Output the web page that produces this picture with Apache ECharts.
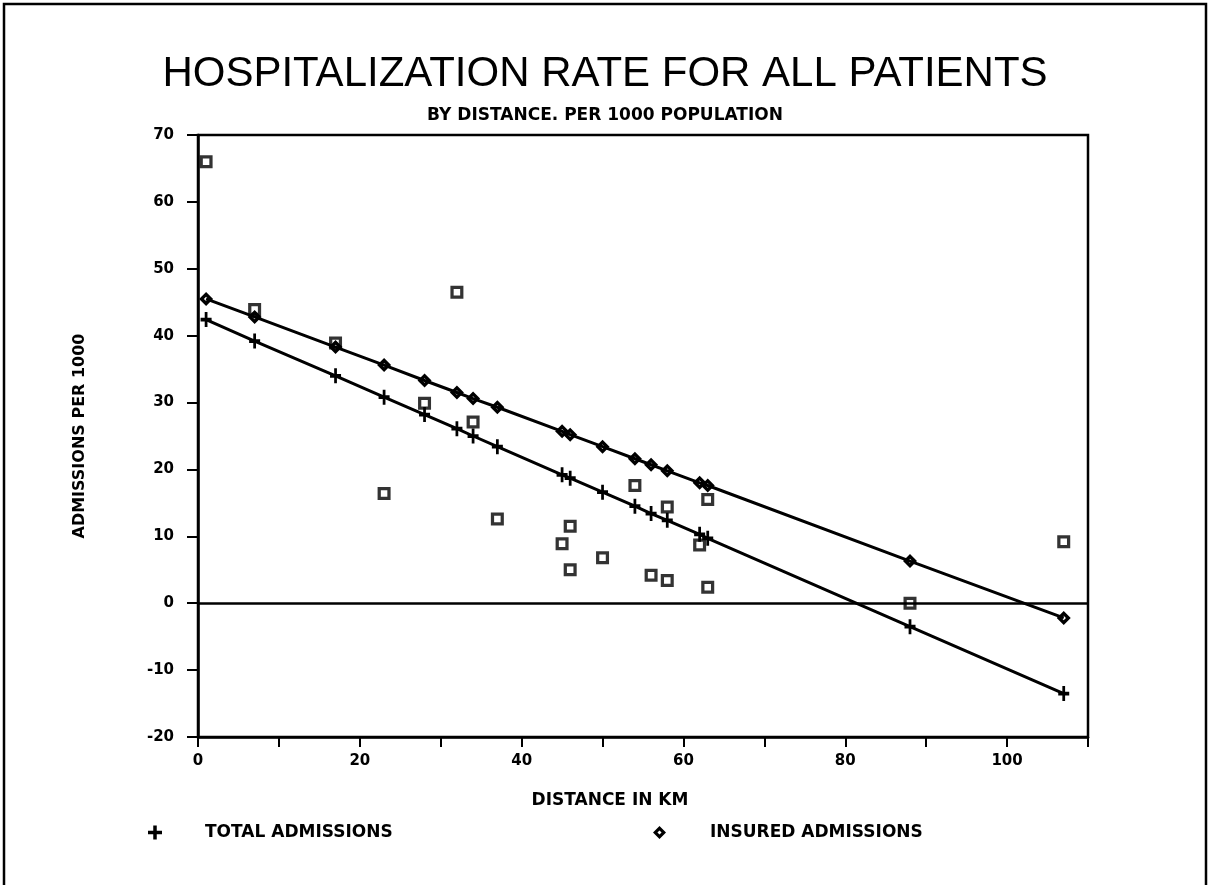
<!DOCTYPE html>
<html>
<head>
<meta charset="utf-8">
<script src="https://cdn.jsdelivr.net/npm/echarts@6/dist/echarts.min.js"></script>
<style>
html,body{margin:0;padding:0;background:#fff;}
#chart{width:1210px;height:885px;}
</style>
</head>
<body>
<div id="chart"></div>
<script>
// Distances (km) at which the fitted lines are marked
const distances = [1,7,17,23,28,32,34,37,45,46,50,54,56,58,62,63,88,107];
// Fitted total admissions per 1000 (+ markers)
const totalAdmissions = [42.4,39.2,34.0,30.8,28.2,26.1,25.0,23.4,19.2,18.7,16.6,14.5,13.4,12.4,10.3,9.7,-3.5,-13.5];
// Fitted insured admissions per 1000 (diamond markers)
const insuredAdmissions = [45.5,42.8,38.3,35.6,33.3,31.5,30.6,29.3,25.7,25.2,23.4,21.6,20.7,19.8,18.0,17.6,6.3,-2.2];
// Observed rates (square markers)
const observedX = [1,7,17,23,28,32,34,37,45,46,46,50,54,56,58,58,62,63,63,88,107];
const observedY = [66.0,43.9,38.9,16.4,29.9,46.5,27.1,12.6,8.9,11.5,5.0,6.8,17.6,4.2,14.4,3.4,8.7,15.5,2.4,0.0,9.2];
// Tick labels
const xTickLabels = [0,20,40,60,80,100];
const yTickLabels = [-20,-10,0,10,20,30,40,50,60,70];

const PLUS = 'path://M4.5,0H7.5V12H4.5Z M0,4.5H12V7.5H0Z';
const DIAMOND = 'path://M6,0L12,6L6,12L0,6Z M6,4.1L4.1,6L6,7.9L7.9,6Z';
const SQUARE = 'path://M0,0H12V12H0Z M3,3V9H9V3Z';
const LBL = {fontFamily:'DejaVu Sans', fontWeight:'bold', color:'#000'};

const chart = echarts.init(document.getElementById('chart'), null, {renderer:'canvas'});
chart.setOption({
  backgroundColor:'#fff',
  animation:false,
  title:[
    {text:'HOSPITALIZATION RATE FOR ALL PATIENTS', left:'center', top:48,
     textStyle:{fontFamily:'Liberation Sans', fontWeight:'normal', fontSize:42, color:'#000'}},
    {text:'BY DISTANCE. PER 1000 POPULATION', left:'center', top:102,
     textStyle:Object.assign({fontSize:17}, LBL)}
  ],
  graphic:[
    {type:'rect', shape:{x:4,y:4,width:1202,height:900}, style:{fill:'none', stroke:'#000', lineWidth:2.5}, silent:true}
  ],
  legend:[
    {data:[{name:'TOTAL ADMISSIONS', icon:PLUS}], left:143, top:819, itemWidth:14, itemHeight:14,
     textStyle:Object.assign({fontSize:17, padding:[0,0,0,38]}, LBL)},
    {data:[{name:'INSURED ADMISSIONS', icon:DIAMOND}], left:648, top:819, itemWidth:13, itemHeight:13,
     textStyle:Object.assign({fontSize:17, padding:[0,0,0,39]}, LBL)}
  ],
  grid:{left:198, right:122, top:135, bottom:148, show:true, borderColor:'#000', borderWidth:2.5, backgroundColor:'transparent'},
  xAxis:{
    type:'value', min:0, max:110, interval:10,
    name:'DISTANCE IN KM', nameLocation:'middle', nameGap:55,
    nameTextStyle:Object.assign({fontSize:17, padding:[0,66,0,0]}, LBL),
    axisLine:{show:true, onZero:false, lineStyle:{color:'#000', width:2.5}},
    axisTick:{show:true, inside:false, length:10, lineStyle:{color:'#000', width:2}},
    axisLabel:Object.assign({fontSize:15, margin:17,
      formatter:function(v){ return xTickLabels.indexOf(v) >= 0 ? String(v) : ''; }}, LBL),
    splitLine:{show:false}
  },
  yAxis:{
    type:'value', min:-20, max:70, interval:10,
    name:'ADMISSIONS PER 1000', nameLocation:'middle', nameRotate:90, nameGap:110,
    nameTextStyle:Object.assign({fontSize:16}, LBL),
    axisLine:{show:true, onZero:false, lineStyle:{color:'#000', width:2.5}},
    axisTick:{show:true, inside:false, length:11, lineStyle:{color:'#000', width:2}},
    axisLabel:Object.assign({fontSize:15, margin:24,
      formatter:function(v){ return yTickLabels.indexOf(v) >= 0 ? String(v) : ''; }}, LBL),
    splitLine:{show:false}
  },
  series:[
    {
      name:'TOTAL ADMISSIONS', type:'line',
      data:distances.map(function(d,i){ return [d,totalAdmissions[i]]; }),
      symbol:PLUS, symbolSize:[11,15], showAllSymbol:true,
      lineStyle:{color:'#000', width:3},
      itemStyle:{color:'#000', borderWidth:0},
      z:3
    },
    {
      name:'INSURED ADMISSIONS', type:'line',
      data:distances.map(function(d,i){ return [d,insuredAdmissions[i]]; }),
      symbol:DIAMOND, symbolSize:14, showAllSymbol:true,
      lineStyle:{color:'#000', width:3},
      itemStyle:{color:'#000', borderWidth:0},
      z:3
    },
    {
      name:'OBSERVED', type:'scatter',
      data:observedX.map(function(d,i){ return [d,observedY[i]]; }),
      symbol:SQUARE, symbolSize:13,
      itemStyle:{color:'#000', borderWidth:0},
      markLine:{silent:true, symbol:'none', label:{show:false},
        lineStyle:{color:'#000', width:2.5, type:'solid'},
        data:[{yAxis:0}]},
      z:4
    }
  ]
});
</script>
</body>
</html>
